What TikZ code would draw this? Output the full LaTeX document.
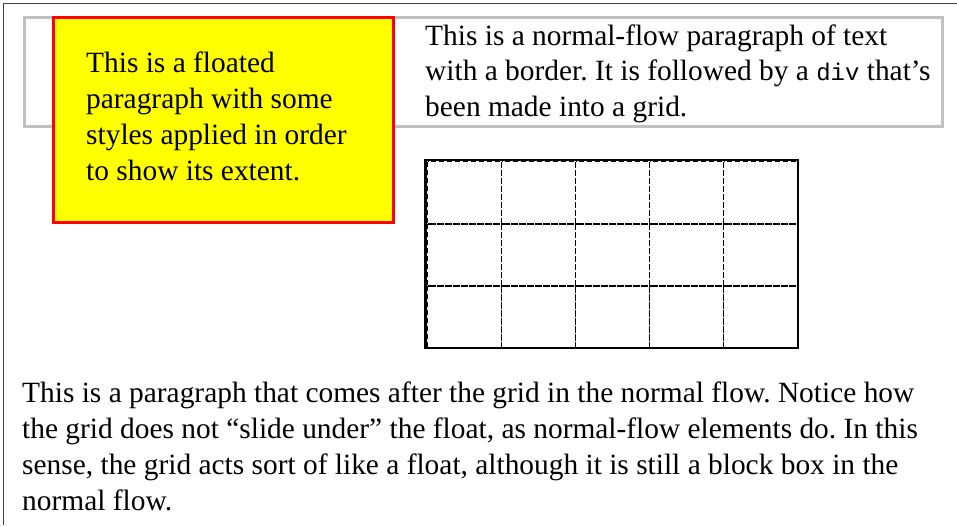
\documentclass[tikz,border=0pt]{standalone}
\usepackage{fontspec}
\setmainfont{Liberation Serif}
\setmonofont{Liberation Mono}
\definecolor{floatfill}{RGB}{255,255,0}
\definecolor{floatline}{RGB}{255,0,0}
\definecolor{silverline}{RGB}{192,192,192}
\frenchspacing
\begin{document}
\begin{tikzpicture}[x=1pt, y=-1pt, font=\fontsize{29.4}{35.7}\selectfont]
    \tikzset{para/.style={anchor=base west, align=left, inner sep=0pt}}
    \tikzset{cell/.style={draw, dash pattern=on 5pt off 3pt, line width=1.6pt}}
    \useasboundingbox (0,0) rectangle (957,525);

    % Page edges (top and left only)
    \draw[line width=1pt, black!75] (957,3) -- (3,3) -- (3,525);

    % Normal-flow paragraph with its gray border (anchored at its last line)
    \draw[line width=3pt, draw=silverline] (24,17.5) rectangle (942.5,126.5);
    \node[para] (flow_text) at (425,116.5) {This is a normal-flow paragraph of text\\
        with a border. It is followed by a {\fontsize{24}{24}\ttfamily div} that’s\\
        been made into a grid.};

    % Floated paragraph (on top of the border)
    \draw[line width=3pt, draw=floatline, fill=floatfill] (53.5,17.5) rectangle (393.5,222);
    \node[para] (float_text) at (86,180) {This is a floated\\
        paragraph with some\\
        styles applied in order\\
        to show its extent.};

    % Grid: outer solid border, then dashed cells
    \draw[line width=2.2pt] (425.5,160) rectangle (798,348);
    \foreach \col in {0,...,4} {
        \foreach \row in {0,...,2} {
            \draw[cell] ({427.5+74*\col},{161.5+62.3*\row}) rectangle ++(74,62.3);
        }
    }

    % Paragraph after the grid
    \node[para] (after_text) at (22,510) {This is a paragraph that comes after the grid in the normal flow. Notice how\\
        the grid does not “slide under” the float, as normal-flow elements do. In this\\
        sense, the grid acts sort of like a float, although it is still a block box in the\\
        normal flow.};

\end{tikzpicture}
\end{document}
